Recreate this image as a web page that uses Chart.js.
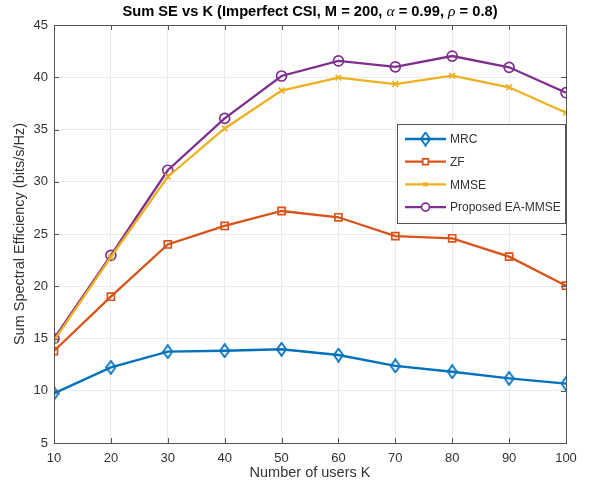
<!DOCTYPE html>
<html>
<head>
<meta charset="utf-8">
<script src="https://cdn.jsdelivr.net/npm/chart.js@4/dist/chart.umd.min.js"></script>
<style>
  html, body { margin: 0; padding: 0; background: #fff; }
  #wrap { width: 589px; height: 486px; position: relative; }
</style>
</head>
<body>
<div id="wrap"><canvas id="chart"></canvas></div>
<script>
var users = [10, 20, 30, 40, 50, 60, 70, 80, 90, 100]
var mrc = [9.75, 12.24, 13.74, 13.83, 13.97, 13.42, 12.37, 11.82, 11.19, 10.68]
var zf = [13.8, 19.0, 24.0, 25.77, 27.2, 26.6, 24.8, 24.59, 22.83, 20.05]
var mmse = [14.8, 22.8, 30.48, 35.1, 38.73, 39.96, 39.35, 40.15, 39.04, 36.6]
var eaMmse = [15.0, 22.96, 31.1, 36.07, 40.12, 41.56, 41.0, 42.03, 40.95, 38.52]

var fontFamily = '"Liberation Sans", Arial, sans-serif'
var textColor = '#333333'
var boxColor = '#555555'

// MATLAB style diamond (taller than wide, hollow)
function diamondMarker(color) {
    var c = document.createElement('canvas')
    c.width = 11; c.height = 15
    var g = c.getContext('2d')
    g.strokeStyle = color
    g.lineWidth = 1.8
    g.beginPath()
    g.moveTo(5.5, 1); g.lineTo(10, 7.5); g.lineTo(5.5, 14); g.lineTo(1, 7.5); g.closePath()
    g.stroke()
    return c
}

function series(label, values, color, marker, size) {
    return {
        label: label,
        data: users.map((k, i) => ({ x: k, y: values[i] })),
        borderColor: color,
        backgroundColor: 'rgba(0,0,0,0)',
        borderWidth: 2.3,
        pointStyle: marker,
        pointRadius: size,
        pointBorderWidth: 1.7,
        pointBorderColor: color,
        pointBackgroundColor: 'rgba(0,0,0,0)',
        tension: 0
    }
}

// Title with TeX-like italic greek letters
var texTitle = {
    id: 'texTitle',
    afterDraw(chart) {
        var ctx = chart.ctx
        var a = chart.chartArea
        var bold = 'bold 14.7px ' + fontFamily
        var greek = 'italic 15.5px "Liberation Serif", "DejaVu Serif", serif'
        var parts = [
            ['Sum SE vs K (Imperfect CSI, M = 200, ', bold],
            ['\u03B1', greek],
            [' = 0.99, ', bold],
            ['\u03C1', greek],
            [' = 0.8)', bold]
        ]
        ctx.save()
        var total = 0
        parts.forEach(p => { ctx.font = p[1]; total += ctx.measureText(p[0]).width })
        var x = (a.left + a.right) / 2 - total / 2
        ctx.fillStyle = '#000'
        ctx.textBaseline = 'alphabetic'
        parts.forEach(p => {
            ctx.font = p[1]
            ctx.fillText(p[0], x, 16)
            x += ctx.measureText(p[0]).width
        })
        ctx.restore()
    }
}

// Box round the plot, inward ticks on all sides, and the legend inside the plot
var matlabAxes = {
    id: 'matlabAxes',
    afterDraw(chart) {
        var ctx = chart.ctx
        var a = chart.chartArea
        var xs = chart.scales.x, ys = chart.scales.y
        ctx.save()
        ctx.strokeStyle = boxColor
        ctx.lineWidth = 1
        ctx.strokeRect(Math.round(a.left) + 0.5, Math.round(a.top) + 0.5, Math.round(a.right - a.left), Math.round(a.bottom - a.top))
        ctx.beginPath()
        xs.ticks.forEach(t => {
            var px = Math.round(xs.getPixelForValue(t.value)) + 0.5
            ctx.moveTo(px, a.bottom); ctx.lineTo(px, a.bottom - 5)
            ctx.moveTo(px, a.top); ctx.lineTo(px, a.top + 5)
        })
        ys.ticks.forEach(t => {
            var py = Math.round(ys.getPixelForValue(t.value)) + 0.5
            ctx.moveTo(a.left, py); ctx.lineTo(a.left + 5, py)
            ctx.moveTo(a.right, py); ctx.lineTo(a.right - 5, py)
        })
        ctx.stroke()

        // legend
        var bx = 397, by = 124, bw = 168, bh = 99
        ctx.fillStyle = '#fff'
        ctx.fillRect(bx, by, bw, bh)
        ctx.strokeStyle = boxColor
        ctx.strokeRect(bx + 0.5, by + 0.5, bw, bh)
        ctx.font = '12px ' + fontFamily
        ctx.textBaseline = 'middle'
        chart.data.datasets.forEach((ds, i) => {
            var y = by + 15 + i * 22.7
            ctx.strokeStyle = ds.borderColor
            ctx.lineWidth = ds.borderWidth
            ctx.beginPath()
            ctx.moveTo(bx + 8, y); ctx.lineTo(bx + 49, y)
            ctx.stroke()
            ctx.lineWidth = ds.pointBorderWidth
            ctx.fillStyle = '#fff'
            Chart.helpers.drawPoint(ctx, { pointStyle: ds.pointStyle, radius: ds.pointRadius - 1, borderWidth: ds.pointBorderWidth }, bx + 28.5, y)
            ctx.fillStyle = textColor
            ctx.fillText(ds.label, bx + 53, y + 1)
        })
        ctx.restore()
    }
}

var config = {
    type: 'line',
    data: {
        datasets: [
            series('MRC', mrc, '#0072BD', diamondMarker('#0072BD'), 6),
            series('ZF', zf, '#D95319', 'rect', 5),
            series('MMSE', mmse, '#EDB120', 'crossRot', 4),
            series('Proposed EA-MMSE', eaMmse, '#7E2F8E', 'circle', 5)
        ]
    },
    options: {
        responsive: true,
        maintainAspectRatio: false,
        animation: false,
        layout: { padding: { left: 0, right: 23, top: 25, bottom: 0 } },
        plugins: {
            legend: { display: false },
            tooltip: { enabled: false },
            title: { display: false }
        },
        scales: {
            x: {
                type: 'linear',
                min: 10,
                max: 100,
                ticks: { stepSize: 10, color: textColor, font: { family: fontFamily, size: 13 }, padding: 8 },
                grid: { color: '#ebebeb', drawTicks: false },
                border: { display: false },
                title: { display: true, text: 'Number of users K', color: textColor, font: { family: fontFamily, size: 14.5 }, padding: { top: 0 } },
                afterFit: s => { s.height = 43 }
            },
            y: {
                min: 5,
                max: 45,
                ticks: { stepSize: 5, color: textColor, font: { family: fontFamily, size: 13 }, padding: 6 },
                grid: { color: '#ebebeb', drawTicks: false },
                border: { display: false },
                title: { display: true, text: 'Sum Spectral Efficiency (bits/s/Hz)', color: textColor, font: { family: fontFamily, size: 14.5 }, padding: { top: 11, bottom: 0 } },
                afterFit: s => { s.width = 54 }
            }
        }
    },
    plugins: [matlabAxes, texTitle]
}

var chart = new Chart(document.getElementById('chart'), config)
</script>
</body>
</html>
